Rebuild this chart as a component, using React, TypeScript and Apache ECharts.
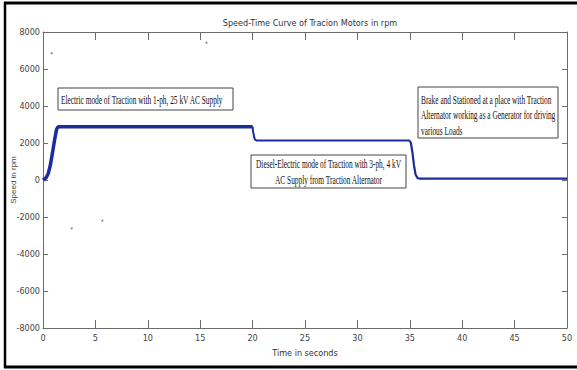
import { useEffect, useRef } from "react";
import * as echarts from "echarts";

// Traction motor speed (rpm) against time (s), one array pair per operating mode
const electricTime = [0, 0.15, 0.3, 0.5, 0.7, 0.9, 1.1, 1.3, 1.45, 5, 10, 15, 20];
const electricSpeed = [0, 60, 120, 350, 800, 1450, 2150, 2750, 2880, 2880, 2880, 2880, 2880];
const dieselTime = [20, 20.05, 20.2, 20.4, 25, 30, 35];
const dieselSpeed = [2880, 2600, 2200, 2130, 2130, 2130, 2130];
const brakeTime = [35, 35.1, 35.25, 35.4, 35.55, 35.75, 36, 40, 45, 50];
const brakeSpeed = [2130, 2000, 1500, 800, 300, 100, 70, 70, 70, 70];

// isolated spikes in the recorded signal
const spikeTime = [0.83, 15.6, 2.74, 5.66];
const spikeSpeed = [6850, 7420, -2610, -2200];

const chartTitle = "Speed-Time Curve of Tracion Motors in rpm";
const xName = "Time in seconds";
const yName = "Speed in rpm";

const electricNote = ["Electric mode of Traction with 1-ph, 25 kV AC Supply"];
const dieselNote = [
  "Diesel-Electric mode of Traction with 3-ph, 4 kV",
  "AC Supply from Traction Alternator",
];
const brakeNote = [
  "Brake and Stationed at a place with Traction",
  "Alternator working as a Generator for driving",
  "various Loads",
];

const pairs = (t: number[], v: number[]) => t.map((x, i) => [x, v[i]]);

const LINE = "#1b2c9b";
const AXIS = "#6b6b6b";
const NARROW = '"Liberation Sans Narrow", "DejaVu Sans Condensed", Arial, sans-serif';
const SERIF = '"Liberation Serif", "Times New Roman", serif';

function noteBox(
  x: number,
  y: number,
  w: number,
  h: number,
  lines: string[],
  align: "left" | "center",
  lineYs: number[],
  scale: number
) {
  const children: any[] = [
    {
      type: "rect",
      shape: { x, y, width: w, height: h },
      style: { fill: "#fff", stroke: "#444", lineWidth: 1 },
    },
  ];
  lines.forEach((txt, i) => {
    const tx = align === "center" ? x + w / 2 : x + 3;
    children.push({
      type: "text",
      x: tx,
      y: lineYs[i],
      scaleX: scale,
      style: {
        text: txt,
        font: `11.5px ${SERIF}`,
        fill: "#111",
        textAlign: align,
        textVerticalAlign: "middle",
      },
    });
  });
  return { type: "group", z: 10, children };
}

export default function App() {
  const ref = useRef<HTMLDivElement>(null);

  useEffect(() => {
    if (!ref.current) return;
    const chart = echarts.init(ref.current, undefined, { renderer: "svg" });

    const plain = (v: number) => String(v);

    const xCommon = {
      type: "value" as const,
      min: 0,
      max: 50,
      interval: 5,
      splitLine: { show: false },
      axisLine: { show: true, onZero: false, lineStyle: { color: AXIS, width: 1 } },
      axisTick: { show: true, inside: true, length: 8, lineStyle: { color: AXIS } },
    };
    const yCommon = {
      type: "value" as const,
      min: -8000,
      max: 8000,
      interval: 2000,
      splitLine: { show: false },
      axisLine: { show: true, onZero: false, lineStyle: { color: AXIS, width: 1 } },
      axisTick: { show: true, inside: true, length: 5, lineStyle: { color: AXIS } },
    };

    chart.setOption({
      animation: false,
      backgroundColor: "#fff",
      title: {
        text: chartTitle,
        left: 305,
        textAlign: "center",
        top: 13,
        textStyle: { fontFamily: NARROW, fontSize: 9, fontWeight: "normal", color: "#333" },
      },
      grid: { left: 43, right: 10, top: 32, bottom: 42, outerBoundsMode: "none", containLabel: false },
      xAxis: [
        {
          ...xCommon,
          position: "bottom",
          name: xName,
          nameLocation: "middle",
          nameGap: 20,
          nameMoveOverlap: false,
          nameTextStyle: { fontFamily: NARROW, fontSize: 9, color: "#333" },
          axisLabel: { fontFamily: NARROW, fontSize: 9, color: "#444", margin: 5, formatter: plain },
        },
        { ...xCommon, position: "top", axisLabel: { show: false } },
      ],
      yAxis: [
        {
          ...yCommon,
          position: "left",
          name: yName,
          nameLocation: "middle",
          nameRotate: 90,
          nameGap: 26,
          nameMoveOverlap: false,
          nameTextStyle: { fontFamily: "Arial, sans-serif", fontSize: 8, color: "#444" },
          axisLabel: { fontFamily: NARROW, fontSize: 9, color: "#444", margin: 3, formatter: plain },
        },
        { ...yCommon, position: "right", axisLabel: { show: false } },
      ],
      series: [
        {
          type: "line",
          data: pairs(electricTime, electricSpeed),
          showSymbol: false,
          lineStyle: { color: LINE, width: 3.5 },
          z: 3,
        },
        {
          type: "line",
          data: pairs(dieselTime, dieselSpeed),
          showSymbol: false,
          lineStyle: { color: LINE, width: 2 },
          z: 3,
        },
        {
          type: "line",
          data: pairs(brakeTime, brakeSpeed),
          showSymbol: false,
          lineStyle: { color: LINE, width: 2.2 },
          z: 3,
        },
        {
          type: "scatter",
          data: pairs(spikeTime, spikeSpeed),
          symbolSize: 2,
          itemStyle: { color: "#666" },
        },
      ],
      graphic: [
        // frame around the figure
        { type: "line", shape: { x1: 4, y1: 3, x2: 577, y2: 3 }, style: { stroke: "#000", lineWidth: 3 } },
        { type: "line", shape: { x1: 5, y1: 2, x2: 5, y2: 368 }, style: { stroke: "#000", lineWidth: 2.5 } },
        { type: "line", shape: { x1: 4, y1: 367, x2: 577, y2: 367 }, style: { stroke: "#000", lineWidth: 3 } },
        noteBox(58, 88, 175, 22, electricNote, "left", [99.5], 0.64),
        noteBox(251, 155, 155, 33, dieselNote, "center", [164, 180], 0.64),
        noteBox(418, 87, 140, 51, brakeNote, "left", [99.5, 115, 130.5], 0.64),
      ],
    });

    return () => chart.dispose();
  }, []);

  return (
    <div
      ref={ref}
      style={{ position: "fixed", left: 0, top: 0, width: 577, height: 370, background: "#fff" }}
    />
  );
}
